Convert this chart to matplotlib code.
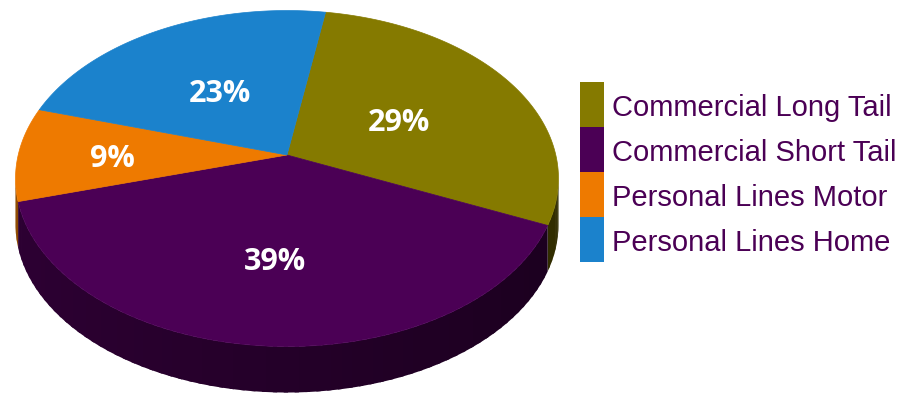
"""3D pie of premium mix by line of business."""

import matplotlib
matplotlib.use("Agg")
import matplotlib.pyplot as plt  # noqa: E402
from matplotlib.colors import to_rgb  # noqa: E402
from matplotlib.patches import Polygon, Rectangle  # noqa: E402

import numpy as np

categories = [
    "Commercial Long Tail",
    "Commercial Short Tail",
    "Personal Lines Motor",
    "Personal Lines Home",
]
shares = [29, 39, 9, 23]
colors = ["#857A00", "#4B0055", "#EE7A00", "#1B82CC"]

# layout (pixels) of the tilted disc
CX, CY = 287, 155      # projected centre of the disc
SX, SY = 268.8, 164.7  # horizontal / vertical scale
K = 0.14               # perspective strength
DEPTH = 46
START = 9.4            # first slice starts this many degrees clockwise from top
LABEL_R = [0.49, 0.57, 0.65, 0.50]
TEXT_COLOR = "#4B0055"


def project(theta, r=1.0):
    t = np.radians(theta)
    u = r * np.sin(t)
    v = r * np.cos(t)
    w = 1 + K * v
    return CX + SX * u / w, CY - SY * v / w


def shade(color, theta):
    f = 0.48 - 0.12 * np.sin(np.radians(theta))
    return tuple(c * f for c in to_rgb(color))


fig = plt.figure(figsize=(9.05, 3.95), dpi=100)
ax = fig.add_axes([0, 0, 1, 1])
ax.set_xlim(0, 905)
ax.set_ylim(395, 0)
ax.axis("off")

# silhouette of the side wall: cos(theta) = -K
vis_lo = np.degrees(np.arccos(-K))
vis_hi = 360 - vis_lo

bounds = START + 360 * np.cumsum([0] + shares) / sum(shares)

# side wall, in small overlapping strips so the shading changes smoothly
for i, col in enumerate(colors):
    a0, a1 = max(bounds[i], vis_lo), min(bounds[i + 1], vis_hi)
    if a1 <= a0:
        continue
    steps = np.arange(a0, a1, 2.0)
    for ta in steps:
        tb = min(ta + 2.8, a1)
        th = np.linspace(ta, tb, 8)
        xs, ys = project(th)
        pts = list(zip(xs, ys)) + list(zip(xs[::-1], ys[::-1] + DEPTH))
        c = shade(col, ta + 1.0)
        ax.add_patch(Polygon(pts, closed=True, facecolor=c, edgecolor="none",
                             zorder=1))

# top faces
for i, col in enumerate(colors):
    th = np.linspace(bounds[i], bounds[i + 1], 200)
    xs, ys = project(th)
    pts = [(CX, CY)] + list(zip(xs, ys))
    ax.add_patch(Polygon(pts, closed=True, facecolor=col, edgecolor=col,
                         linewidth=0.5, zorder=2))
    mid = (bounds[i] + bounds[i + 1]) / 2
    lx, ly = project(mid, LABEL_R[i])
    ax.text(lx, ly + 5, f"{shares[i]}%", color="white", fontsize=22,
            fontweight="bold", family="Open Sans", ha="center", va="center",
            zorder=3)

# legend
for i, (name, col) in enumerate(zip(categories, colors)):
    y0 = 82 + 45 * i
    ax.add_patch(Rectangle((580, y0), 24, 45, facecolor=col, edgecolor="none"))
    ax.text(612, y0 + 26, name, color=TEXT_COLOR, fontsize=21,
            family="Liberation Sans", ha="left", va="center")

fig.savefig("out.png", dpi=100)
plt.close(fig)
